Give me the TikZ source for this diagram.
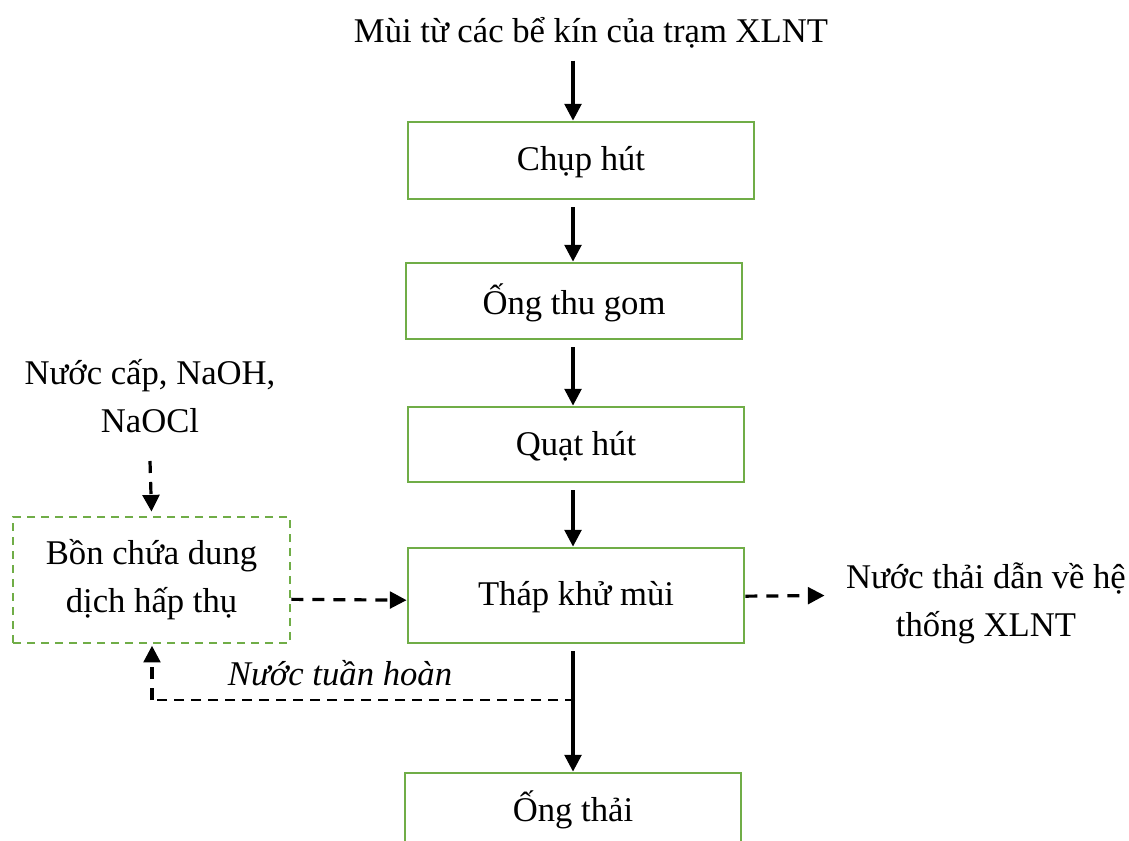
\documentclass[tikz,border=0pt]{standalone}
\usepackage{fontspec}
\setmainfont{Liberation Serif}
\usetikzlibrary{arrows.meta}
\definecolor{boxgreen}{RGB}{112,173,71}
\begin{document}
\begin{tikzpicture}[x=0.75pt,y=-0.75pt,
  every node/.style={font=\fontsize{26}{36}\selectfont, inner sep=0pt, align=center},
  stage/.style={draw=boxgreen, line width=2.1pt},
  tank/.style={draw=boxgreen, line width=2.1pt, dash pattern=on 6pt off 4.5pt},
  flow/.style={line width=2.4pt, -{Triangle[width=12.5pt,length=12.5pt]}},
  dflow/.style={line width=2.4pt, dash pattern=on 9pt off 6.75pt, -{Triangle[width=12.5pt,length=12.5pt]}},
  ret/.style={line width=1.7pt, dash pattern=on 7.5pt off 5.25pt}]
\clip (0,0) rectangle (1129,840);
\fill[white] (0,0) rectangle (1129,840);

% main process line
\coordinate (spine) at (573,0);
\node (src) at (591,33) {Mùi từ các bể kín của trạm XLNT};
\node[stage, minimum width=259.5pt, minimum height=57.75pt] (chup) at (581,160.5) {};
\node at (581,162) {Chụp hút};
\node[stage, minimum width=252pt, minimum height=57pt] (ong) at (574,301) {};
\node at (574,303) {Ống thu gom};
\node[stage, minimum width=252pt, minimum height=56.25pt] (quat) at (576,444.5) {};
\node at (576,446) {Quạt hút};
\node[stage, minimum width=252pt, minimum height=71.25pt] (thap) at (576,595.5) {};
\node at (576,597) {Tháp khử mùi};
\node[stage, minimum width=252pt, minimum height=75pt] (thai) at (573,823) {};
\node at (573,810) {Ống thải};

% absorbent solution supply
\node (chem) at (150,396) {Nước cấp, NaOH,\\NaOCl};
\node[tank, minimum width=207.75pt, minimum height=94.5pt] (bon) at (151.5,580) {Bồn chứa dung\\dịch hấp thụ};

% wastewater outlet
\node (out) at (986,603) {Nước thải dẫn về hệ\\thống XLNT};

% recirculation label
\node[font=\fontsize{26}{36}\selectfont\itshape] (rec) at (340,673) {Nước tuần hoàn};

% connectors
\draw[flow] ([yshift=-9pt]src.south -| spine) -- (chup.north -| spine);
\draw[flow] ([yshift=-5pt]chup.south -| spine) -- (ong.north -| spine);
\draw[flow] ([yshift=-5pt]ong.south -| spine) -- (quat.north -| spine);
\draw[flow] ([yshift=-5pt]quat.south -| spine) -- (thap.north -| spine);
\draw[flow] ([yshift=-5pt]thap.south -| spine) -- (thai.north -| spine);
\draw[dflow] ([yshift=-21pt]chem.south) -- ([yshift=3pt]bon.north);
\draw[dflow] ([yshift=-14.5pt]bon.east) -- ([yshift=-3.5pt]thap.west);
\draw[dflow] ([yshift=-0.5pt]thap.east) -- ([xshift=-16pt]out.west |- thap.east);
\coordinate (tap) at (575,700);
\coordinate (corner) at (152,700);
\draw[ret] (tap) -- (corner);
\draw[dflow] (corner) -- ([yshift=-1pt]bon.south -| corner);
\end{tikzpicture}
\end{document}
